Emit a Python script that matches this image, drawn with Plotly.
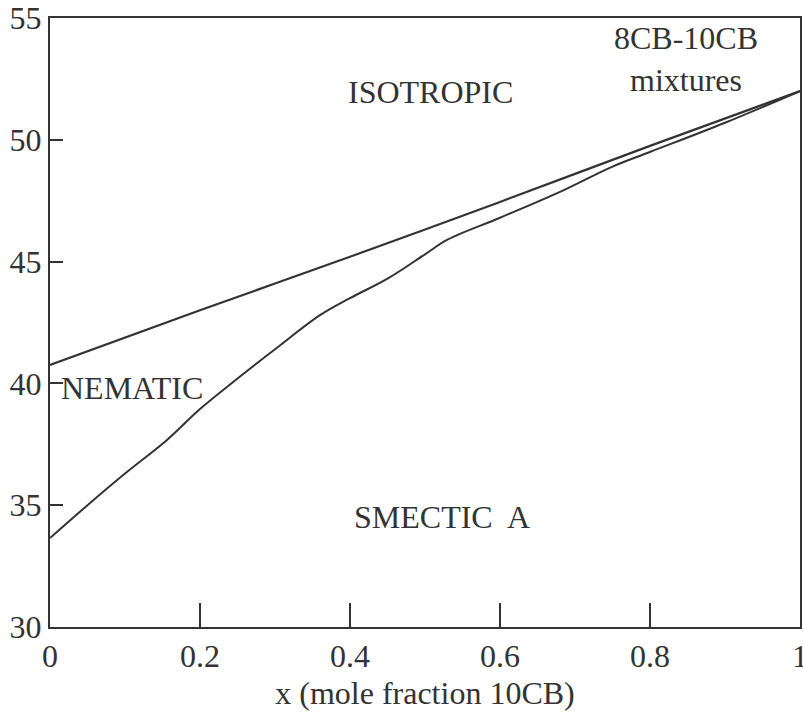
import plotly.graph_objects as go

# Isotropic-nematic transition line
upper_x = [0.0, 0.2, 0.4, 0.6, 0.8, 1.0]
upper_y = [40.76, 43.0, 45.2, 47.45, 49.75, 52.0]

# Nematic-smectic A transition line
lower_x = [0.0, 0.05, 0.1, 0.156, 0.2, 0.25, 0.3, 0.36, 0.4, 0.45, 0.5, 0.53, 0.6, 0.68, 0.75, 0.8, 0.9, 1.0]
lower_y = [33.65, 35.0, 36.3, 37.68, 38.95, 40.2, 41.4, 42.8, 43.5, 44.3, 45.3, 45.9, 46.8, 47.86, 48.9, 49.5, 50.7, 52.0]

x_ticks = [0, 0.2, 0.4, 0.6, 0.8, 1]
x_tick_labels = ["0", "0.2", "0.4", "0.6", "0.8", "1"]
y_ticks = [30, 35, 40, 45, 50, 55]

FONT = "Liberation Serif"
INK = "#333333"
FS = 32

fig = go.Figure()
fig.add_trace(go.Scatter(x=upper_x, y=upper_y, mode="lines",
                         line=dict(color=INK, width=2.2, shape="spline", smoothing=0.8),
                         showlegend=False, hoverinfo="skip"))
fig.add_trace(go.Scatter(x=lower_x, y=lower_y, mode="lines",
                         line=dict(color=INK, width=2.0, shape="spline", smoothing=1.0),
                         showlegend=False, hoverinfo="skip"))

labels = [
    dict(text="ISOTROPIC", x=0.507, y=51.96, xanchor="center"),
    dict(text="NEMATIC", x=0.012, y=39.8, xanchor="left"),
    dict(text="SMECTIC&nbsp; A", x=0.523, y=34.5, xanchor="center"),
    dict(text="8CB-10CB<br>mixtures", x=0.848, y=53.3, xanchor="center"),
]
for a in labels:
    fig.add_annotation(x=a["x"], y=a["y"], text=a["text"], xanchor=a["xanchor"],
                       yanchor="middle", showarrow=False,
                       font=dict(family=FONT, size=FS, color=INK))

fig.update_layout(
    width=803, height=717,
    margin=dict(l=50, r=3, t=18, b=90, autoexpand=False),
    paper_bgcolor="white", plot_bgcolor="white",
    font=dict(family=FONT, size=FS, color=INK),
)
fig.update_xaxes(range=[0, 1], tickvals=x_ticks, ticktext=x_tick_labels,
                 ticks="inside", ticklen=24, tickwidth=2, tickcolor=INK,
                 showline=True, linecolor=INK, linewidth=2, mirror=True,
                 showgrid=False, zeroline=False, automargin=False,
                 ticklabeloverflow="allow",
                 tickfont=dict(family=FONT, size=FS, color=INK),
                 title=dict(text="x (mole fraction 10CB)", standoff=8,
                            font=dict(family=FONT, size=FS, color=INK)))
fig.update_yaxes(range=[30, 55], tickvals=y_ticks,
                 ticks="inside", ticklen=13, tickwidth=2, tickcolor=INK,
                 showline=True, linecolor=INK, linewidth=2, mirror=True,
                 showgrid=False, zeroline=False, automargin=False,
                 ticklabeloverflow="allow",
                 tickfont=dict(family=FONT, size=FS, color=INK))

fig.write_html("out.html", config={"displayModeBar": False},
               post_script="document.body.style.margin='0';document.body.style.overflow='hidden';")
